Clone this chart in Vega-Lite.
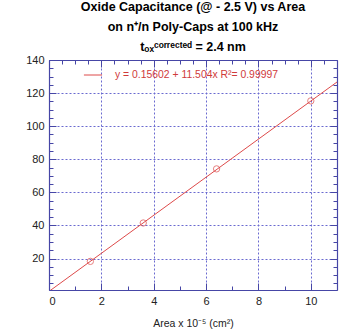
{
  "$schema": "https://vega.github.io/schema/vega-lite/v6.json",
  "width": 288,
  "height": 230,
  "autosize": "none",
  "padding": {"left": 49, "top": 60, "right": 3, "bottom": 44},
  "background": "white",
  "title": {
    "text": ["Oxide Capacitance (@ - 2.5 V) vs Area", "on n⁺/n Poly-Caps at 100 kHz"],
    "subtitle": "tₒₓᶜᵒʳʳᵉᶜᵗᵉᵈ = 2.4 nm",
    "font": "Liberation Sans",
    "fontSize": 12.5,
    "fontWeight": "bold",
    "color": "black",
    "lineHeight": 20,
    "subtitleFont": "Liberation Sans",
    "subtitleFontSize": 12.5,
    "subtitleFontWeight": "bold",
    "subtitleColor": "black",
    "subtitlePadding": 7,
    "anchor": "middle",
    "offset": 1
  },
  "datasets": {
    "points": [
      {"area": 1.58, "cap": 18.3},
      {"area": 3.6, "cap": 41.5},
      {"area": 6.4, "cap": 74.2},
      {"area": 10.0, "cap": 115.3}
    ],
    "fit": [
      {"area": 0, "cap": 0.156, "series": "y = 0.15602 + 11.504x R²= 0.99997"},
      {"area": 11, "cap": 126.70, "series": "y = 0.15602 + 11.504x R²= 0.99997"}
    ]
  },
  "layer": [
    {
      "data": {"name": "fit"},
      "mark": {"type": "line", "strokeWidth": 1, "clip": true},
      "encoding": {
        "x": {
          "field": "area", "type": "quantitative",
          "scale": {"domain": [0, 11], "nice": false, "zero": false},
          "axis": {
            "orient": "bottom",
            "title": "Area x 10⁻⁵ (cm²)",
            "values": [0,0.5,1,1.5,2,2.5,3,3.5,4,4.5,5,5.5,6,6.5,7,7.5,8,8.5,9,9.5,10,10.5,11],
            "format": "d",
            "labelExpr": "(datum.value % 2 == 0 && datum.value <= 10) ? format(datum.value, 'd') : ''",
            "grid": true,
            "gridOpacity": {"condition": {"test": "datum.value % 2 == 0", "value": 1}, "value": 0},
            "tickSize": {"condition": {"test": "datum.value % 2 == 0", "value": -7}, "value": -4},
            "labelPadding": 12,
            "titlePadding": 12
          }
        },
        "y": {
          "field": "cap", "type": "quantitative",
          "scale": {"domain": [1, 140], "nice": false, "zero": false},
          "axis": {
            "orient": "left",
            "title": null,
            "values": [5,10,15,20,25,30,35,40,45,50,55,60,65,70,75,80,85,90,95,100,105,110,115,120,125,130,135,140],
            "labelExpr": "(datum.value % 20 == 0) ? datum.label : ''",
            "grid": true,
            "gridOpacity": {"condition": {"test": "datum.value % 20 == 0", "value": 1}, "value": 0},
            "tickSize": {"condition": {"test": "datum.value % 20 == 0", "value": -7}, "value": -4},
            "labelPadding": 12
          }
        },
        "color": {
          "field": "series", "type": "nominal",
          "scale": {"range": ["#dd4a4a"]},
          "legend": {
            "orient": "none",
            "legendX": 34,
            "legendY": 5,
            "title": null,
            "symbolType": "stroke",
            "symbolSize": 330,
            "symbolStrokeWidth": 1,
            "labelColor": "#d03a3a",
            "labelFont": "Liberation Sans",
            "labelFontSize": 10.4,
            "labelLimit": 300,
            "labelOffset": 12
          }
        }
      }
    },
    {
      "data": {"name": "points"},
      "mark": {"type": "point", "shape": "circle", "filled": false, "size": 40, "strokeWidth": 1, "color": "#dd4a4a"},
      "encoding": {
        "x": {
          "field": "area", "type": "quantitative",
          "axis": {
            "orient": "top",
            "title": null,
            "labels": false,
            "grid": false,
            "values": [0,0.5,1,1.5,2,2.5,3,3.5,4,4.5,5,5.5,6,6.5,7,7.5,8,8.5,9,9.5,10,10.5,11],
            "tickSize": {"condition": {"test": "datum.value % 2 == 0", "value": -7}, "value": -4}
          }
        },
        "y": {
          "field": "cap", "type": "quantitative",
          "axis": {
            "orient": "right",
            "title": null,
            "labels": false,
            "grid": false,
            "values": [5,10,15,20,25,30,35,40,45,50,55,60,65,70,75,80,85,90,95,100,105,110,115,120,125,130,135,140],
            "tickSize": {"condition": {"test": "datum.value % 20 == 0", "value": -7}, "value": -4}
          }
        }
      }
    }
  ],
  "resolve": {"axis": {"x": "independent", "y": "independent"}},
  "config": {
    "view": {"stroke": null},
    "axis": {
      "domainColor": "#4646a6",
      "domainWidth": 1.2,
      "tickColor": "#4646a6",
      "tickWidth": 1,
      "gridColor": "#6a6ad0",
      "gridDash": [2, 2],
      "gridWidth": 1,
      "labelFont": "Liberation Sans",
      "labelFontSize": 11,
      "labelColor": "#222222",
      "titleFont": "Liberation Sans",
      "titleFontSize": 10.5,
      "titleFontWeight": "normal",
      "titleColor": "#222222"
    }
  }
}
